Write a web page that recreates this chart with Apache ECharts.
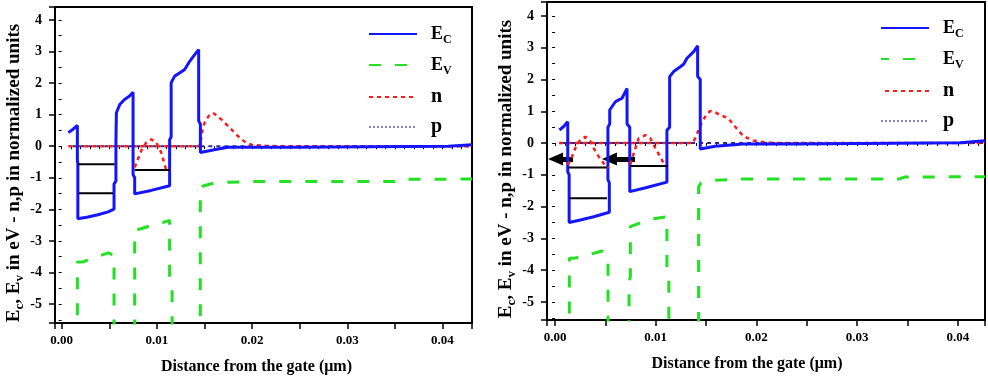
<!DOCTYPE html>
<html>
<head>
<meta charset="utf-8">
<title>Band diagram</title>
<script src="https://cdn.jsdelivr.net/npm/echarts@6/dist/echarts.min.js"></script>
<style>
  html, body { margin: 0; padding: 0; background: #fff; }
  #chart { width: 988px; height: 380px; }
</style>
</head>
<body>
<div id="chart"></div>
<script>
// ---- values (x in µm, y in eV / normalized units) ----
const legendNames = ['Ec', 'Ev', 'n', 'p'];
const xTickValues = [0, 0.01, 0.02, 0.03, 0.04];
const yTickValues = [-5, -4, -3, -2, -1, 0, 1, 2, 3, 4];

// left panel
const ecLeft = [
  [0.0007, 0.43], [0.0012, 0.54], [0.00165, 0.66], [0.00165, -0.45], [0.0017, -0.55], [0.0017, -2.30],
  [0.00276, -2.24], [0.00381, -2.17], [0.00487, -2.08], [0.0055, -1.99], [0.0055, -1.2], [0.0057, -1.1],
  [0.0057, 0.17], [0.00575, 1.06], [0.0061, 1.32], [0.0066, 1.48], [0.0071, 1.58], [0.0075, 1.71],
  [0.0075, -0.9], [0.00767, -1.0], [0.00767, -1.51], [0.0094, -1.40], [0.01134, -1.25],
  [0.01134, 0.2], [0.0115, 0.3], [0.0115, 2.01], [0.01187, 2.22], [0.01239, 2.32], [0.01292, 2.43],
  [0.01345, 2.69], [0.01397, 2.90], [0.01439, 3.06], [0.01439, 0.8], [0.01457, 0.7], [0.01457, -0.2],
  [0.01537, -0.15], [0.01642, -0.09], [0.01747, -0.03], [0.0243, -0.03], [0.0243, 0.0],
  [0.0406, 0.0], [0.0407, 0.05], [0.0431, 0.05]
];
const evLeft = [
  [0.00165, -7], [0.00165, -3.67], [0.0022, -3.67], [0.0030, -3.57], [0.0040, -3.47],
  [0.0049, -3.38], [0.0055, -3.46], [0.0055, -7],
  [0.00767, -7], [0.00767, -2.66], [0.0080, -2.64], [0.0085, -2.6], [0.0090, -2.55], [0.00976, -2.48],
  [0.0106, -2.42], [0.01134, -2.35], [0.01134, -4.3], [0.0116, -4.5], [0.0116, -7],
  [0.01456, -7], [0.01456, -1.35], [0.0148, -1.27], [0.0157, -1.19], [0.0175, -1.14], [0.0200, -1.12],
  [0.0350, -1.12], [0.0353, -1.05], [0.0431, -1.04]
];
const nMainLeft = [
  [0.0007, 0], [0.0144, 0], [0.01456, 0.07], [0.01477, 0.48], [0.01502, 0.75], [0.01555, 1.01],
  [0.0160, 1.04], [0.01677, 0.85], [0.01747, 0.64], [0.0180, 0.48], [0.0187, 0.27], [0.0194, 0.1],
  [0.0200, 0.04], [0.0215, 0.01], [0.0230, 0], [0.0431, 0]
];
const nWellsLeft = [
  [[0.00767, -0.67], [0.00836, -0.14], [0.00889, 0.12], [0.00941, 0.22], [0.00994, 0.12], [0.01046, -0.2], [0.01099, -0.77]]
];
const pLeft = [[0.0007, 0], [0.0431, 0]];
const levelsLeft = [
  [[0.00171, -0.57], [0.00557, -0.57]],
  [[0.00182, -1.49], [0.00539, -1.49]],
  [[0.00767, -0.75], [0.01134, -0.75]]
];

// right panel
const ecRight = [
  [0.00043, 0.41], [0.00086, 0.52], [0.00126, 0.67], [0.00126, -0.9], [0.0014, -1.0], [0.0014, -2.5],
  [0.00251, -2.42], [0.00384, -2.32], [0.00539, -2.18], [0.00539, -1.25], [0.00525, -1.15], [0.00525, 0.5],
  [0.00543, 0.6], [0.00543, 1.04], [0.00599, 1.30], [0.00632, 1.36], [0.00665, 1.41], [0.00715, 1.72],
  [0.00715, 0.6], [0.00742, 0.5], [0.00742, -1.53], [0.0091, -1.40], [0.01111, -1.23],
  [0.01111, 0.4], [0.01138, 0.5], [0.01138, 2.09], [0.01178, 2.25], [0.01244, 2.40], [0.01277, 2.48],
  [0.0131, 2.67], [0.01377, 2.88], [0.01416, 3.06], [0.01416, 2.1], [0.01442, 2.0], [0.01442, -0.19],
  [0.0159, -0.1], [0.0178, -0.05], [0.0186, -0.03], [0.0241, -0.03], [0.0241, 0.01],
  [0.0402, 0.01], [0.0403, 0.07], [0.0427, 0.07]
];
const evRight = [
  [0.00142, -7], [0.00142, -3.63], [0.00185, -3.63], [0.0033, -3.52], [0.00466, -3.40],
  [0.00526, -3.57], [0.00526, -7],
  [0.00735, -7], [0.00735, -4.4], [0.00748, -4.2], [0.00748, -2.63], [0.00814, -2.55], [0.0093, -2.42],
  [0.0098, -2.38], [0.01111, -2.32], [0.01111, -4.0], [0.0113, -4.2], [0.0113, -7],
  [0.01426, -7], [0.01426, -1.37], [0.01449, -1.26], [0.01558, -1.18], [0.0184, -1.13], [0.0342, -1.13],
  [0.0347, -1.07], [0.0427, -1.06]
];
const nMainRight = [
  [0.0004, 0], [0.0137, 0], [0.01377, 0.02], [0.01426, 0.41], [0.01459, 0.67], [0.01502, 0.88],
  [0.01542, 1.01], [0.01591, 0.97], [0.01641, 0.88], [0.0172, 0.78], [0.01787, 0.52], [0.01869, 0.22],
  [0.01968, 0.08], [0.021, 0.01], [0.0225, 0], [0.0427, 0]
];
const nWellsRight = [
  [[0.00126, -0.69], [0.00168, -0.43], [0.00201, -0.16], [0.00251, 0.1], [0.00301, 0.2], [0.0035, 0.05],
   [0.00383, -0.16], [0.00434, -0.43], [0.00483, -0.64], [0.00533, -0.79]],
  [[0.00747, -0.67], [0.00787, -0.27], [0.00831, 0.15], [0.00897, 0.25], [0.00946, 0.15], [0.00996, -0.16],
   [0.01045, -0.43], [0.01079, -0.64]]
];
const pRight = [[0.0004, 0], [0.0427, 0]];
const levelsRight = [
  [[0.00136, -0.77], [0.00533, -0.77]],
  [[0.00146, -1.74], [0.00516, -1.74]],
  [[0.00747, -0.72], [0.01119, -0.72]]
];
// [tail x, head x, y]
const arrowsRight = [[0.00179, 0.00005, -0.5], [0.00794, 0.0054, -0.5]];

(function() {
  'use strict';

  const FONT = '"Liberation Serif", "Times New Roman", serif';

  // layout of the two panels
  const panels = [
    {
      grid: { left: 55, top: 7, width: 417, height: 318 },
      xMin: -0.0007, xMax: 0.0431, yMin: -5.6, yMax: 4.41,
      legend: { left: 363, top: 20 },
      namePadX: [0, 14, 0, 0],
      data: { ec: ecLeft, ev: evLeft, nMain: nMainLeft, nWells: nWellsLeft, p: pLeft, levels: levelsLeft, arrows: [] }
    },
    {
      grid: { left: 547, top: 2, width: 438, height: 318 },
      xMin: -0.0008, xMax: 0.0427, yMin: -5.57, yMax: 4.44,
      legend: { left: 875, top: 14 },
      namePadX: [0, 38, 0, 0],
      data: { ec: ecRight, ev: evRight, nMain: nMainRight, nWells: nWellsRight, p: pRight, levels: levelsRight, arrows: arrowsRight }
    }
  ];

  const legendRich = {
    e: { fontFamily: FONT, fontWeight: 'bold', fontSize: 18, lineHeight: 24, color: '#000', padding: [0, 0, 0, 9] },
    s: { fontFamily: FONT, fontWeight: 'bold', fontSize: 12, lineHeight: 18, color: '#000', verticalAlign: 'bottom' },
    t: { fontFamily: FONT, fontWeight: 'bold', fontSize: 20, lineHeight: 24, color: '#000', padding: [0, 0, 0, 9] }
  };
  const legendText = { Ec: '{e|E}{s|C}', Ev: '{e|E}{s|V}', n: '{t|n}', p: '{t|p}' };

  function xLabel(v) {
    for (const t of xTickValues) {
      if (Math.abs(v - t) < 1e-9) return t.toFixed(2);
    }
    return '';
  }

  function yLabel(v) {
    const r = Math.round(v);
    if (Math.abs(v - r) < 1e-6 && yTickValues.indexOf(r) >= 0) return String(r);
    return '';
  }

  const grids = [], xAxes = [], yAxes = [], legends = [], series = [];

  panels.forEach(function(pn, i) {
    grids.push(Object.assign({ show: true, borderColor: '#000', borderWidth: 2, backgroundColor: '#fff' }, pn.grid));

    // main x axis (ticks every 0.005, labels every 0.01)
    xAxes.push({
      type: 'value', gridIndex: i, position: 'bottom', min: pn.xMin, max: pn.xMax, splitNumber: 9,
      axisLine: { show: true, onZero: false, lineStyle: { color: '#000', width: 2 } },
      axisTick: { show: true, length: 6, lineStyle: { color: '#000', width: 1.5 } },
      axisLabel: { formatter: xLabel, margin: 11, color: '#000', fontFamily: FONT, fontWeight: 'bold', fontSize: 13 },
      splitLine: { show: false },
      name: 'Distance from the gate (μm)', nameLocation: 'middle', nameGap: 36,
      nameTextStyle: { color: '#000', fontFamily: FONT, fontWeight: 'bold', fontSize: 16, padding: pn.namePadX }
    });
    // minor x ticks every 0.001
    xAxes.push({
      type: 'value', gridIndex: i, position: 'bottom', min: pn.xMin, max: pn.xMax, splitNumber: 44,
      axisLine: { show: false }, axisLabel: { show: false }, splitLine: { show: false },
      axisTick: { show: true, length: 3, lineStyle: { color: '#000', width: 1 } }
    });

    yAxes.push({
      type: 'value', gridIndex: i, position: 'left', min: pn.yMin, max: pn.yMax, splitNumber: 10,
      axisLine: { show: true, onZero: false, lineStyle: { color: '#000', width: 2 } },
      axisTick: { show: true, length: 6, lineStyle: { color: '#000', width: 1.5 } },
      axisLabel: { formatter: yLabel, margin: 13, color: '#000', fontFamily: FONT, fontWeight: 'bold', fontSize: 14 },
      splitLine: { show: false },
      name: '{b|E}{s|c}{b|, E}{s|v}{b| in eV - n,p in normalized units}',
      nameLocation: 'middle', nameGap: 29,
      nameTextStyle: {
        padding: [0, 16, 0, 0],
        rich: {
          b: { fontFamily: FONT, fontWeight: 'bold', fontSize: 19, lineHeight: 24, color: '#000' },
          s: { fontFamily: FONT, fontWeight: 'bold', fontSize: 13, lineHeight: 15, color: '#000', verticalAlign: 'bottom' }
        }
      }
    });
    yAxes.push({
      type: 'value', gridIndex: i, position: 'left', min: pn.yMin, max: pn.yMax, splitNumber: 20,
      axisLine: { show: false }, axisLabel: { show: false }, splitLine: { show: false },
      axisTick: { show: true, length: 3, lineStyle: { color: '#000', width: 1 } }
    });

    legends.push({
      left: pn.legend.left, top: pn.legend.top, orient: 'vertical',
      itemWidth: 48, itemHeight: 14, itemGap: 10, selectedMode: false,
      itemStyle: { opacity: 0, borderWidth: 0 },
      data: legendNames.map(function(nm) {
        if (nm === 'p') return { name: nm, lineStyle: { width: 1.5, color: '#5a5ab8', type: [2, 2] } };
        return { name: nm };
      }),
      formatter: function(nm) { return legendText[nm]; },
      textStyle: { rich: legendRich }
    });

    const d = pn.data;
    const base = { type: 'line', xAxisIndex: 2 * i, yAxisIndex: 2 * i, symbol: 'none', silent: true, animation: false };

    series.push(Object.assign({}, base, {
      name: 'Ev', data: d.ev, z: 2,
      itemStyle: { color: '#22e022' },
      lineStyle: { color: '#22e022', width: 3, type: [12, 14] }
    }));
    series.push(Object.assign({}, base, {
      name: 'p', data: d.p, z: 3,
      itemStyle: { color: '#2b2b8c' },
      lineStyle: { color: '#2b2b8c', width: 2, type: [4, 4], dashOffset: 4 }
    }));
    series.push(Object.assign({}, base, {
      name: 'n', data: d.nMain, z: 4,
      itemStyle: { color: '#ff1a1a' },
      lineStyle: { color: '#ff1a1a', width: 2.5, type: [4, 4] }
    }));
    series.push(Object.assign({}, base, {
      name: 'Ec', data: d.ec, z: 5,
      itemStyle: { color: '#1414ff' },
      lineStyle: { color: '#1414ff', width: 3 }
    }));

    // energy levels in the wells (+ arrows on the right panel)
    d.levels.forEach(function(lv, k) {
      const s = Object.assign({}, base, {
        name: 'level', data: lv, z: 6,
        itemStyle: { color: '#000' },
        lineStyle: { color: '#000', width: 2 }
      });
      if (k === 0 && d.arrows.length) {
        s.markLine = {
          silent: true, animation: false,
          symbol: ['none', 'triangle'], symbolSize: [13, 15],
          label: { show: false },
          lineStyle: { color: '#000', width: 5, type: 'solid' },
          data: d.arrows.map(function(a) {
            return [{ coord: [a[0], a[2]] }, { coord: [a[1], a[2]] }];
          })
        };
      }
      series.push(s);
    });

    d.nWells.forEach(function(bump) {
      series.push(Object.assign({}, base, {
        name: 'n', data: bump, z: 7,
        itemStyle: { color: '#ff1a1a' },
        lineStyle: { color: '#ff1a1a', width: 2.5, type: [4, 4] }
      }));
    });
  });

  const chart = echarts.init(document.getElementById('chart'));
  chart.setOption({
    animation: false,
    backgroundColor: '#fff',
    grid: grids,
    xAxis: xAxes,
    yAxis: yAxes,
    legend: legends,
    series: series
  });
})();
</script>
</body>
</html>
